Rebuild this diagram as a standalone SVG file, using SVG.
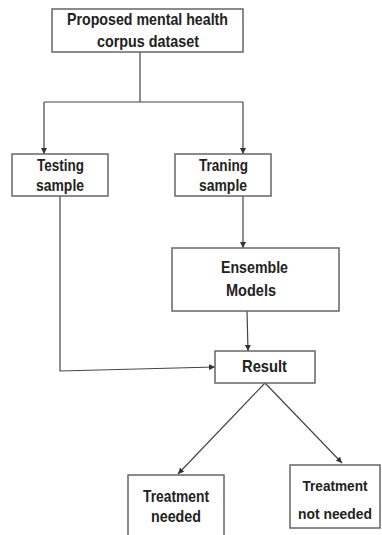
<svg xmlns="http://www.w3.org/2000/svg" width="382" height="535" viewBox="0 0 382 535">
<defs>
<style>
.box{fill:#fff;stroke:#666;stroke-width:1.5}
.t{font-family:"Liberation Sans",Arial,sans-serif;font-weight:bold;font-size:16.5px;fill:#222;text-anchor:middle}
.s{font-size:15px}
.c{fill:none;stroke:#444;stroke-width:1.2}
</style>
<marker id="ah" viewBox="0 0 10 10" refX="10" refY="5" markerWidth="6" markerHeight="6" orient="auto" markerUnits="userSpaceOnUse">
<path d="M0,0 L10,5 L0,10 Z" fill="#333"/>
</marker>
</defs>
<rect width="382" height="535" fill="#fff"/>
<g id="connectors">
<polyline class="c" points="140,52 140,102"/>
<polyline class="c" points="44,102 243,102"/>
<polyline class="c" points="44,102 44,154" marker-end="url(#ah)"/>
<polyline class="c" points="243,102 243,154" marker-end="url(#ah)"/>
<polyline class="c" points="243,196 243,248" marker-end="url(#ah)"/>
<polyline class="c" points="247,311 248,351" marker-end="url(#ah)"/>
<polyline class="c" points="60,196 60,371 215,367" marker-end="url(#ah)"/>
<polyline class="c" points="265,383 178,474" marker-end="url(#ah)"/>
<polyline class="c" points="265,383 342,463" marker-end="url(#ah)"/>
</g>
<g id="n-corpus">
<rect class="box" x="52" y="9" width="191" height="43"/>
<text class="t" x="147.5" y="25" textLength="161" lengthAdjust="spacingAndGlyphs">Proposed mental health</text>
<text class="t" x="148" y="47" textLength="102" lengthAdjust="spacingAndGlyphs">corpus dataset</text>
</g>
<g id="n-testing">
<rect class="box" x="12" y="154" width="96" height="42"/>
<text class="t" x="60.5" y="171" textLength="47" lengthAdjust="spacingAndGlyphs">Testing</text>
<text class="t" x="60" y="191" textLength="48" lengthAdjust="spacingAndGlyphs">sample</text>
</g>
<g id="n-training">
<rect class="box" x="175" y="154" width="96" height="42"/>
<text class="t" x="223.5" y="171" textLength="49" lengthAdjust="spacingAndGlyphs">Traning</text>
<text class="t" x="223" y="191" textLength="48" lengthAdjust="spacingAndGlyphs">sample</text>
</g>
<g id="n-ensemble">
<rect class="box" x="172" y="248" width="167" height="63"/>
<text class="t" x="254.5" y="273" textLength="67" lengthAdjust="spacingAndGlyphs">Ensemble</text>
<text class="t" x="251" y="296" textLength="50" lengthAdjust="spacingAndGlyphs">Models</text>
</g>
<g id="n-result">
<rect class="box" x="215" y="351" width="100" height="32"/>
<text class="t" x="264.5" y="372" textLength="45" lengthAdjust="spacingAndGlyphs">Result</text>
</g>
<g id="n-needed">
<rect class="box" x="128" y="475" width="96" height="70"/>
<text class="t" x="176" y="502" textLength="66" lengthAdjust="spacingAndGlyphs">Treatment</text>
<text class="t" x="176" y="522" textLength="50" lengthAdjust="spacingAndGlyphs">needed</text>
</g>
<g id="n-notneeded">
<rect class="box" x="290" y="465" width="90" height="63"/>
<text class="t s" x="335" y="491" textLength="65" lengthAdjust="spacingAndGlyphs">Treatment</text>
<text class="t s" x="335" y="519" textLength="74" lengthAdjust="spacingAndGlyphs">not needed</text>
</g>
</svg>
